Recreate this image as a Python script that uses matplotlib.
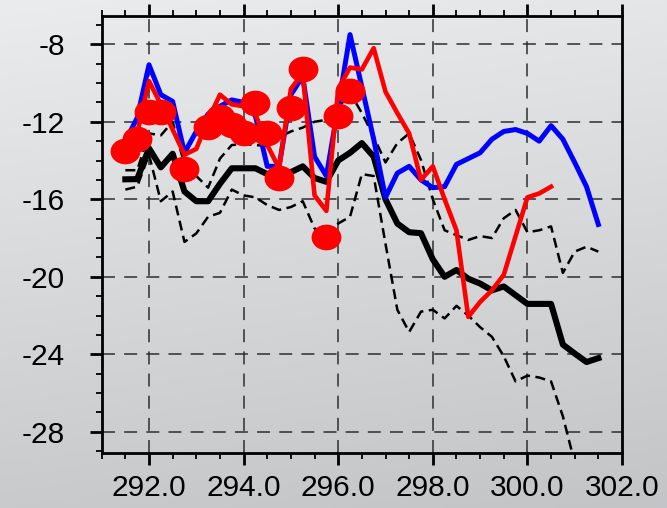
import numpy as np
import matplotlib
matplotlib.use("Agg")
import matplotlib.pyplot as plt
from matplotlib.path import Path
from matplotlib.ticker import MultipleLocator, FormatStrFormatter

# sampling grid of the profiles
x_full = np.arange(291.5, 301.5 + 0.01, 0.25)

blue_vals = [-13.0, -11.8, -9.06, -10.6, -10.95, -13.6, -12.5, -11.6, -11.2, -10.87,
             -11.0, -11.7, -14.3, -14.3, -10.6, -9.66, -13.8, -14.8, -11.2, -7.5,
             -10.2, -12.9, -15.9, -14.65, -14.3, -15.0, -15.4, -15.35, -14.2, -13.9,
             -13.6, -12.9, -12.5, -12.4, -12.6, -13.0, -12.2, -12.9, -14.1, -15.35, -17.3]

red_vals = [-13.4, -12.6, -9.9, -11.1, -12.4, -13.7, -13.4, -11.9, -10.6, -11.1,
            -11.2, -11.6, -13.2, -14.4, -10.3, -9.5, -15.8, -16.6, -10.3, -9.2,
            -9.3, -8.2, -10.45, -11.55, -12.6, -15.0, -14.3, -16.0, -17.6, -22.07,
            -21.3, -20.7, -19.9, -17.9, -15.9, -15.7, -15.35]

mean_vals = [-14.97, -14.96, -13.37, -14.35, -13.65, -15.6, -16.1, -16.1, -15.2, -14.4,
             -14.4, -14.4, -14.7, -14.6, -14.6, -14.3, -14.9, -15.1, -14.0, -13.6,
             -13.1, -13.8, -16.0, -17.25, -17.7, -17.75, -19.1, -20.0, -19.65, -20.1,
             -20.35, -20.7, -20.5, -20.95, -21.4, -21.4, -21.4, -23.5, -23.96, -24.4, -24.2]

upper_vals = [-14.5, -14.5, -12.6, -12.7, -12.0, -14.2, -14.8, -15.4, -13.9, -13.2,
              -13.15, -13.2, -13.25, -12.8, -12.5, -12.3, -12.0, -11.9, -11.3, -10.5,
              -11.55, -12.76, -14.1, -13.1, -12.6, -13.97, -16.0, -17.6, -17.85, -18.1,
              -17.9, -18.0, -16.98, -16.55, -17.7, -17.6, -17.4, -19.8, -18.7, -18.45, -18.7]

lower_vals = [-15.5, -15.35, -13.7, -16.1, -15.6, -18.2, -17.76, -16.9, -16.7, -15.5,
              -15.8, -15.9, -16.3, -16.55, -16.4, -16.1, -17.5, -17.9, -17.25, -16.9,
              -14.7, -14.8, -18.3, -21.7, -22.85, -21.8, -21.7, -22.15, -21.5, -22.0,
              -22.6, -23.1, -24.1, -25.4, -25.1, -25.2, -25.4, -27.2, -29.6]

obs_x = [291.5, 291.75, 292.0, 292.25, 292.75, 293.25, 293.5, 293.75, 294.0,
         294.25, 294.5, 294.75, 295.0, 295.25, 295.75, 296.0, 296.25]
obs_y = [-13.5, -12.9, -11.5, -11.5, -14.45, -12.25, -11.75, -12.15, -12.6,
         -11.05, -12.6, -14.9, -11.3, -9.25, -17.95, -11.7, -10.4]

x_ticks = [292.0, 294.0, 296.0, 298.0, 300.0, 302.0]
y_ticks = [-28, -24, -20, -16, -12, -8]

plt.rcParams['font.family'] = ['Liberation Sans', 'DejaVu Sans']
plt.rcParams['axes.unicode_minus'] = False

fig = plt.figure(figsize=(6.67, 5.08), dpi=100)

# soft grey gradient backdrop
bg = fig.add_axes([0, 0, 1, 1], zorder=-10)
ny, nx = 200, 200
yy, xx = np.mgrid[0:1:ny * 1j, 0:1:nx * 1j]
t = np.clip(0.85 * yy + 0.15 * xx, 0, 1)
top = np.array([234, 236, 237]) / 255.0
bot = np.array([194, 196, 198]) / 255.0
img = top[None, None, :] * (1 - t[..., None]) + bot[None, None, :] * t[..., None]
bg.imshow(img, aspect='auto', extent=[0, 1, 0, 1], origin='upper', interpolation='bilinear')
bg.axis('off')

ax = fig.add_axes([101.7 / 667, 1 - 452.7 / 508, (622 - 101.7) / 667, (452.7 - 16) / 508])
ax.set_facecolor('none')

dash_grid = (0, (8.5, 6))
for xv in x_ticks[:-1]:
    ax.axvline(xv, color='#2e2e2e', lw=1.1, ls=dash_grid, zorder=1)
for yv in y_ticks:
    ax.axhline(yv, color='#2e2e2e', lw=1.1, ls=dash_grid, zorder=1)

thin_dash = (0, (4, 2.2))
ax.plot(x_full, upper_vals, color='black', lw=1.8, ls=thin_dash, zorder=2)
ax.plot(x_full[:len(lower_vals)], lower_vals, color='black', lw=1.8, ls=thin_dash, zorder=2)
ax.plot(x_full, mean_vals, color='black', lw=4.4, zorder=3)
ax.plot(x_full, blue_vals, color='#0000ff', lw=3.6, zorder=4)
ax.plot(x_full[:len(red_vals)], red_vals, color='#ff0000', lw=3.3, zorder=5)

circ = Path.unit_circle()
ell = Path(circ.vertices * np.array([1.0, 0.86]), circ.codes)
ax.plot(obs_x, obs_y, ls='none', marker=ell, markersize=21.5,
        color='#ff0000', markeredgewidth=0, zorder=6)

ax.set_xlim(291.0, 302.0)
ax.set_ylim(-29.08, -6.54)

ax.set_xticks(x_ticks)
ax.set_yticks(y_ticks)
ax.xaxis.set_minor_locator(MultipleLocator(0.5))
ax.yaxis.set_minor_locator(MultipleLocator(1))
ax.xaxis.set_major_formatter(FormatStrFormatter('%.1f'))

for s in ax.spines.values():
    s.set_linewidth(2.0)
    s.set_color('black')

ax.tick_params(which='both', direction='out', top=True, right=False, bottom=True, left=True,
               labeltop=False, labelright=False, color='black')
ax.tick_params(which='major', length=8.6, width=2.0, labelsize=21.5)
ax.tick_params(which='minor', length=4.3, width=1.3)
ax.tick_params(axis='x', which='major', pad=7)
ax.tick_params(axis='y', which='major', pad=18)

fig.savefig('out.png', dpi=100)
